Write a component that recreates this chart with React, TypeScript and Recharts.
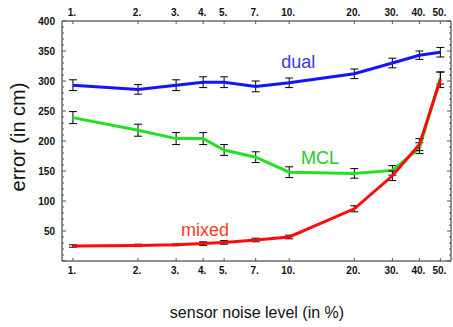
import {
  ComposedChart,
  ErrorBar,
  Line,
  ReferenceDot,
  XAxis,
  YAxis,
} from 'recharts';

// sensor noise level (%), log axis
const noise = [1, 2, 3, 4, 5, 7, 10, 20, 30, 40, 50];

const dual = [293, 286, 293, 298, 298, 291, 297, 312, 330, 343, 348];
const dualErr = [9, 8, 9, 9, 9, 9, 8, 8, 8, 7, 8];

const mcl = [239, 218, 204, 204, 185, 173, 148, 146, 151, 188, 305];
const mclErr = [10, 10, 10, 10, 9, 9, 9, 8, 8, 9, 10];

const mixed = [25, 26, 27, 29, 31, 35, 40, 87, 142, 194, 302];
const mixedErr = [2, 2, 1.5, 3, 3, 3, 3, 5, 8, 10, 13];

const xTicks = [1, 2, 3, 4, 5, 7, 10, 20, 30, 40, 50];
const yTicks = Array.from({ length: 41 }, (_, i) => i * 10);

const data = noise.map((n, i) => ({
  noise: n,
  dual: dual[i],
  dualErr: dualErr[i],
  mcl: mcl[i],
  mclErr: mclErr[i],
  mixed: mixed[i],
  mixedErr: mixedErr[i],
}));

const FONT = '"Liberation Sans", Arial, Helvetica, sans-serif';
const TICK_COLOR = '#555';

function BottomTick({ x, y, payload }: any) {
  return (
    <g>
      <line x1={x} y1={y} x2={x} y2={y - 3} stroke={TICK_COLOR} />
      <text x={x - 1} y={y + 13} textAnchor="middle" fontSize={10} fontWeight="bold" fontFamily={FONT} fill="#111">
        {payload.value + '.'}
      </text>
    </g>
  );
}

function TopTick({ x, y, payload }: any) {
  return (
    <g>
      <line x1={x} y1={y} x2={x} y2={y + 3} stroke={TICK_COLOR} />
      <text x={x - 1} y={y - 5} textAnchor="middle" fontSize={10} fontWeight="bold" fontFamily={FONT} fill="#111">
        {payload.value + '.'}
      </text>
    </g>
  );
}

function LeftTick({ x, y, payload }: any) {
  const major = payload.value % 50 === 0;
  return (
    <g>
      <line x1={x} y1={y} x2={x + (major ? 4 : 2)} y2={y} stroke={TICK_COLOR} />
      {major && payload.value > 0 && (
        <text x={x - 7} y={y + 3.5} textAnchor="end" fontSize={10} fontWeight="bold" fontFamily={FONT} fill="#111">
          {payload.value}
        </text>
      )}
    </g>
  );
}

function RightTick({ x, y, payload }: any) {
  const major = payload.value % 50 === 0;
  return <line x1={x} y1={y} x2={x - (major ? 4 : 2)} y2={y} stroke={TICK_COLOR} />;
}

function SeriesLabel({ text, color }: { text: string; color: string }) {
  return ({ viewBox }: any) => {
    const cx = viewBox.x + viewBox.width / 2;
    const cy = viewBox.y + viewBox.height / 2;
    return (
      <text x={cx} y={cy + 6} textAnchor="middle" fontSize={18} fontFamily={FONT} fill={color}>
        {text}
      </text>
    );
  };
}

export default function App() {
  return (
    <div style={{ position: 'absolute', left: 0, top: 0, width: 453, height: 327, background: '#fff' }}>
      <ComposedChart width={453} height={327} data={data} margin={{ top: 0, right: 0, left: 0, bottom: 0 }}>
        <XAxis
          xAxisId="bottom"
          dataKey="noise"
          type="number"
          scale="log"
          domain={[0.89, 56]}
          allowDataOverflow
          ticks={xTicks}
          interval={0}
          orientation="bottom"
          height={66}
          tickSize={0}
          tickMargin={0}
          tick={<BottomTick />}
          stroke="#222"
        />
        <XAxis
          xAxisId="top"
          dataKey="noise"
          type="number"
          scale="log"
          domain={[0.89, 56]}
          allowDataOverflow
          ticks={xTicks}
          interval={0}
          orientation="top"
          height={21}
          tickSize={0}
          tickMargin={0}
          tick={<TopTick />}
          stroke="#222"
        />
        <YAxis
          yAxisId="left"
          type="number"
          domain={[0, 400]}
          allowDataOverflow
          ticks={yTicks}
          interval={0}
          width={62}
          tickSize={0}
          tickMargin={0}
          tick={<LeftTick />}
          stroke="#222"
        />
        <YAxis
          yAxisId="right"
          orientation="right"
          type="number"
          domain={[0, 400]}
          allowDataOverflow
          ticks={yTicks}
          interval={0}
          width={2}
          tickSize={0}
          tickMargin={0}
          tick={<RightTick />}
          stroke="#222"
        />

        <Line
          xAxisId="bottom"
          yAxisId="left"
          dataKey="dual"
          stroke="#1414ff"
          strokeWidth={3}
          dot={false}
          isAnimationActive={false}
        >
          <ErrorBar dataKey="dualErr" width={4} stroke="#000" strokeWidth={1} direction="y" />
        </Line>
        <Line
          xAxisId="bottom"
          yAxisId="left"
          dataKey="mcl"
          stroke="#22e022"
          strokeWidth={3}
          dot={false}
          isAnimationActive={false}
        >
          <ErrorBar dataKey="mclErr" width={4} stroke="#000" strokeWidth={1} direction="y" />
        </Line>
        <Line
          xAxisId="bottom"
          yAxisId="left"
          dataKey="mixed"
          stroke="#ff0a0a"
          strokeWidth={3}
          dot={false}
          isAnimationActive={false}
        >
          <ErrorBar dataKey="mixedErr" width={4} stroke="#000" strokeWidth={1} direction="y" />
        </Line>

        <ReferenceDot xAxisId="bottom" yAxisId="left" x={11} y={331} r={0} stroke="none"
          label={SeriesLabel({ text: 'dual', color: '#3b3bd6' })} />
        <ReferenceDot xAxisId="bottom" yAxisId="left" x={13.9} y={171} r={0} stroke="none"
          label={SeriesLabel({ text: 'MCL', color: '#22cc22' })} />
        <ReferenceDot xAxisId="bottom" yAxisId="left" x={4.08} y={51} r={0} stroke="none"
          label={SeriesLabel({ text: 'mixed', color: '#ff3a1a' })} />
      </ComposedChart>
      <div
        style={{
          position: 'absolute',
          left: 18,
          top: 137,
          transform: 'translate(-50%, -50%) rotate(-90deg)',
          whiteSpace: 'nowrap',
          fontFamily: FONT,
          fontSize: 20,
          color: '#111',
        }}
      >
        error (in cm)
      </div>
      <div
        style={{
          position: 'absolute',
          left: 257,
          top: 313,
          transform: 'translate(-50%, -50%)',
          whiteSpace: 'nowrap',
          fontFamily: FONT,
          fontSize: 16,
          color: '#111',
        }}
      >
        sensor noise level (in %)
      </div>
    </div>
  );
}
